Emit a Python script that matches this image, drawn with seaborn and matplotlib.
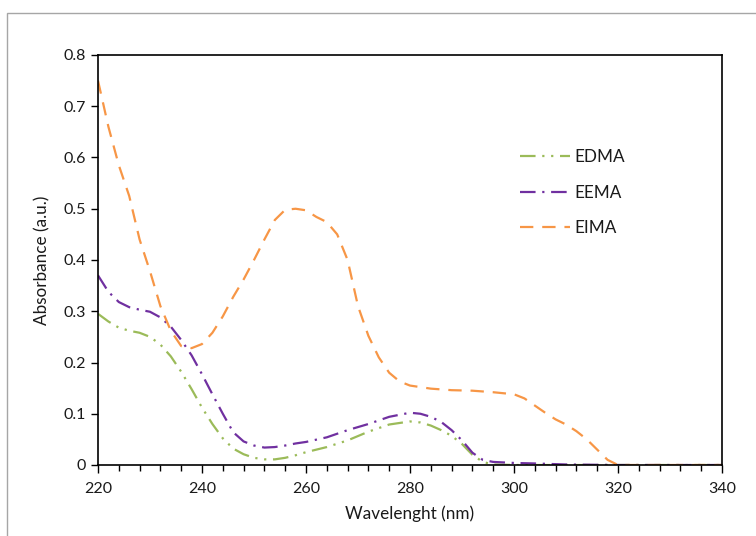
import matplotlib
matplotlib.use("Agg")
import matplotlib.pyplot as plt
import seaborn as sns
import pandas as pd
from matplotlib.patches import Rectangle
from matplotlib.ticker import MultipleLocator

# ---- data ----
wl_edma = [220, 222, 224, 226, 228, 230, 232, 234, 236, 238, 240, 242, 244, 246, 248, 250,
           252, 254, 256, 258, 260, 264, 268, 272, 276, 280, 282, 284, 286, 288, 290, 292,
           294, 296, 300, 320, 340]
edma = [0.295, 0.280, 0.268, 0.262, 0.258, 0.250, 0.235, 0.212, 0.182, 0.148, 0.112, 0.080,
        0.052, 0.032, 0.021, 0.014, 0.011, 0.011, 0.014, 0.019, 0.025, 0.035, 0.048, 0.065,
        0.079, 0.085, 0.083, 0.077, 0.068, 0.057, 0.041, 0.020, 0.006, 0.001, 0.0, 0.0, 0.0]

wl_eema = [220, 222, 224, 226, 228, 230, 232, 234, 236, 238, 240, 242, 244, 246, 248, 250,
           252, 254, 256, 258, 260, 264, 268, 272, 276, 280, 282, 284, 286, 288, 290, 292,
           294, 296, 300, 304, 310, 320, 340]
eema = [0.370, 0.338, 0.318, 0.308, 0.303, 0.299, 0.288, 0.270, 0.244, 0.214, 0.177, 0.138,
        0.100, 0.064, 0.046, 0.038, 0.034, 0.035, 0.038, 0.042, 0.045, 0.054, 0.068, 0.080,
        0.094, 0.102, 0.100, 0.094, 0.084, 0.068, 0.048, 0.024, 0.010, 0.006, 0.004, 0.003,
        0.001, 0.0, 0.0]

wl_eima = [220, 222, 224, 226, 228, 230, 232, 234, 236, 238, 240, 242, 244, 246, 248, 250,
           252, 254, 256, 258, 260, 262, 264, 266, 268, 270, 272, 274, 276, 278, 280, 284,
           288, 292, 296, 300, 302, 304, 306, 308, 310, 312, 314, 316, 318, 320, 340]
eima = [0.750, 0.660, 0.585, 0.525, 0.440, 0.378, 0.310, 0.262, 0.232, 0.228, 0.236, 0.258,
        0.290, 0.328, 0.362, 0.400, 0.440, 0.478, 0.498, 0.500, 0.497, 0.484, 0.474, 0.450,
        0.400, 0.310, 0.252, 0.210, 0.180, 0.163, 0.155, 0.149, 0.146, 0.145, 0.142, 0.138,
        0.130, 0.116, 0.102, 0.089, 0.079, 0.066, 0.050, 0.030, 0.010, 0.0, 0.0]

series_names = ["EDMA", "EEMA", "EIMA"]
x_ticks = [220, 240, 260, 280, 300, 320, 340]
y_ticks = [0, 0.1, 0.2, 0.3, 0.4, 0.5, 0.6, 0.7, 0.8]
y_tick_labels = ["0", "0.1", "0.2", "0.3", "0.4", "0.5", "0.6", "0.7", "0.8"]

# ---- styling ----
sns.set_theme(style="white")
plt.rcParams["font.family"] = ["Lato", "DejaVu Sans"]
text_color = "#1a1a1a"

fig = plt.figure(figsize=(7.56, 5.36), dpi=100)
ax = fig.add_axes([98 / 756, 1 - 465 / 536, 624 / 756, 410 / 536])

colors = {"EDMA": "#9BBB59", "EEMA": "#7030A0", "EIMA": "#F79646"}
styles = {"EDMA": (0, (7, 3, 1, 3, 1, 3)),
          "EEMA": (0, (7, 3, 1, 3)),
          "EIMA": (0, (6, 4))}
data = {"EDMA": (wl_edma, edma), "EEMA": (wl_eema, eema), "EIMA": (wl_eima, eima)}

for name in series_names:
    xs, ys = data[name]
    df = pd.DataFrame({"wl": xs, "abs": ys})
    sns.lineplot(data=df, x="wl", y="abs", ax=ax, color=colors[name],
                 linestyle=styles[name], linewidth=1.6, label=name)

ax.set_xlim(220, 340)
ax.set_ylim(0, 0.8)
ax.set_xticks(x_ticks)
ax.set_xticklabels([str(t) for t in x_ticks])
ax.xaxis.set_minor_locator(MultipleLocator(4))
ax.set_yticks(y_ticks)
ax.set_yticklabels(y_tick_labels)

for s in ax.spines.values():
    s.set_visible(True)
    s.set_color("black")
    s.set_linewidth(1.2)

ax.tick_params(axis="x", which="major", direction="out", length=6, width=1,
               color="black", labelsize=11.5, labelcolor=text_color, pad=6, bottom=True)
ax.tick_params(axis="x", which="minor", direction="out", length=4, width=1,
               color="black", bottom=True)
ax.tick_params(axis="y", which="major", direction="out", length=5, width=1,
               color="black", labelsize=11.5, labelcolor=text_color, pad=4, left=True)

ax.set_xlabel("Wavelenght (nm)", fontsize=12.3, color=text_color, labelpad=7)
ax.set_ylabel("Absorbance (a.u.)", fontsize=12.3, color=text_color, labelpad=9)

leg = ax.legend(loc="upper left", bbox_to_anchor=((520 - 98) / 624, (465 - 149) / 410),
                frameon=False, fontsize=12.3, handlelength=2.9, handletextpad=0.3,
                labelspacing=1.15, borderpad=0, borderaxespad=0)
for t in leg.get_texts():
    t.set_color(text_color)

# outer chart-area border
fig.patches.append(Rectangle((7 / 756, -0.01), 1.0, 1 - 13 / 536 + 0.01,
                             transform=fig.transFigure, fill=False,
                             edgecolor="#a6a6a6", linewidth=1))

fig.savefig("out.png", dpi=100)
